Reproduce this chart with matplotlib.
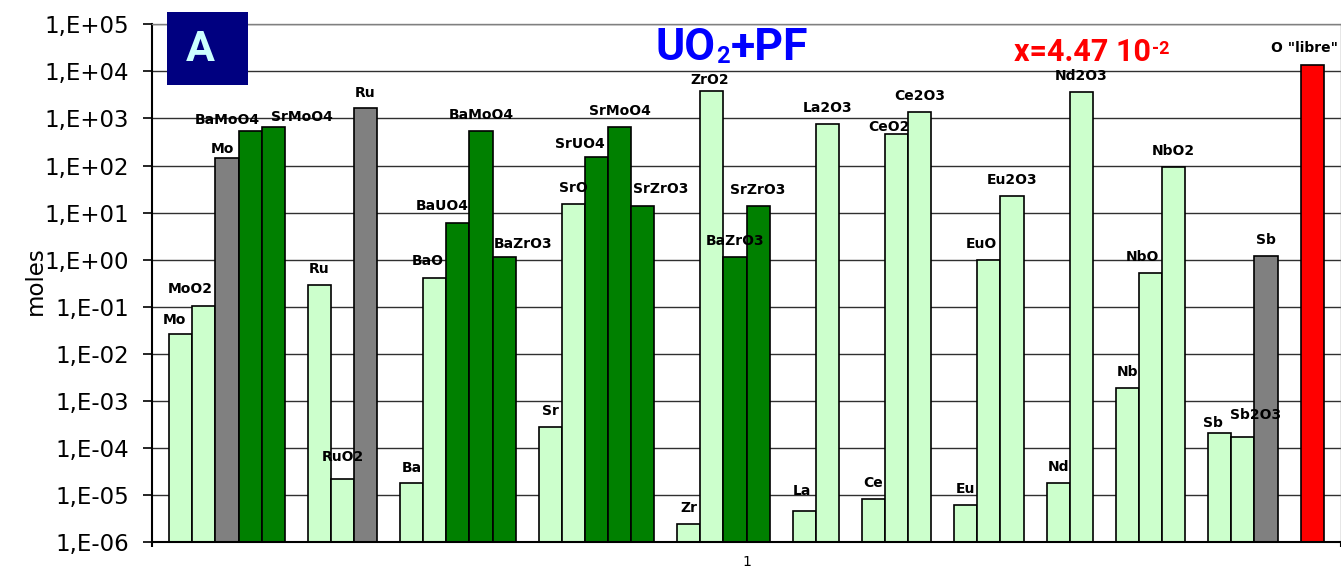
import matplotlib.pyplot as plt
from matplotlib import font_manager
from matplotlib.patches import Rectangle
from matplotlib.ticker import FixedLocator, FuncFormatter, NullLocator

# one bar per species, "" / None marks an empty slot between element groups
species = [
    "Mo", "MoO2", "Mo", "BaMoO4", "SrMoO4", "",
    "Ru", "RuO2", "Ru", "",
    "Ba", "BaO", "BaUO4", "BaMoO4", "BaZrO3", "",
    "Sr", "SrO", "SrUO4", "SrMoO4", "SrZrO3", "",
    "Zr", "ZrO2", "BaZrO3", "SrZrO3", "",
    "La", "La2O3", "",
    "Ce", "CeO2", "Ce2O3", "",
    "Eu", "EuO", "Eu2O3", "",
    "Nd", "Nd2O3", "",
    "Nb", "NbO", "NbO2", "",
    "Sb", "Sb2O3", "Sb", "",
    'O "libre"',
]
moles = [
    2.6e-2, 1.06e-1, 147, 535, 660, None,
    0.29, 2.2e-5, 1700, None,
    1.8e-5, 0.40, 6.1, 535, 1.13, None,
    2.8e-4, 15.3, 155, 660, 14, None,
    2.4e-6, 3840, 1.13, 14, None,
    4.7e-6, 776, None,
    8.4e-6, 462, 1350, None,
    6.3e-6, 1.0, 22.6, None,
    1.8e-5, 3600, None,
    1.87e-3, 0.52, 95, None,
    2.1e-4, 1.75e-4, 1.22, None,
    1.37e4,
]
# s: dissolved in UO2, x: mixed oxide phase, m: metallic phase, o: free oxygen
phase = [
    "s", "s", "m", "x", "x", "",
    "s", "s", "m", "",
    "s", "s", "x", "x", "x", "",
    "s", "s", "x", "x", "x", "",
    "s", "s", "x", "x", "",
    "s", "s", "",
    "s", "s", "s", "",
    "s", "s", "s", "",
    "s", "s", "",
    "s", "s", "s", "",
    "s", "s", "m", "",
    "o",
]
decades = list(range(-6, 6))

W, H = 1341, 570
phase_colors = {"s": "#CCFFCC", "x": "#008000", "m": "#808080", "o": "#FF0000"}
# hand placed data labels (pixels), default is centred 16 px above the bar
label_shift = {
    0: (-6, 14), 1: (-14, 17), 2: (-5, 9), 3: (-23, 11), 4: (29, 10),
    7: (0, 22), 8: (0, 15), 10: (0, 15), 11: (-7, 17), 12: (-16, 17),
    14: (19, 13), 18: (-17, 13), 20: (18, 17), 23: (-2, 11), 27: (-2, 20),
    31: (-8, 7), 35: (-8, 16), 42: (-8, 16), 45: (-7, 10), 46: (13, 22),
    49: (-8, 17),
}

_names = {f.name for f in font_manager.fontManager.ttflist}
narrow = "Liberation Sans Narrow" if "Liberation Sans Narrow" in _names else "Roboto"


def fx(px):
    return px / W


def fy(py):
    return 1 - py / H


fig = plt.figure(figsize=(W / 100, H / 100), dpi=100)
ax = fig.add_axes([fx(152.3), fy(542.3), (1340.7 - 152.3) / W, (542.3 - 24.3) / H])

ax.set_yscale("log")
ax.set_ylim(10.0 ** decades[0], 10.0 ** decades[-1])
ax.set_xlim(-1.237, len(species) - 1 + 1.237)

for i, (name, val, kind) in enumerate(zip(species, moles, phase)):
    if val is None:
        continue
    ax.bar(i, val, width=1.0, color=phase_colors[kind], edgecolor="black",
           linewidth=1.2, zorder=2)
    dx, dy = label_shift.get(i, (0, 16))
    ax.annotate(name, (i, val), xytext=(dx, dy), textcoords="offset pixels",
                ha="center", va="center", fontsize=10, fontweight="bold",
                zorder=5)

ax.yaxis.set_major_locator(FixedLocator([10.0 ** k for k in decades]))
ax.yaxis.set_minor_locator(NullLocator())
ax.yaxis.set_major_formatter(
    FuncFormatter(lambda v, pos: "1,E%+03d" % round(__import__("math").log10(v)))
)
ax.tick_params(axis="y", length=6.5, width=1.2, direction="out", pad=10.5,
               labelsize=16.5)
ax.yaxis.grid(True, color="#303030", linewidth=1.0)
ax.set_axisbelow(True)

ax.set_xticks([(len(species) - 1) / 2])
ax.set_xticklabels(["1"])
ax.set_xticks(list(ax.get_xlim()), minor=True)
ax.tick_params(axis="x", which="major", length=0, pad=9, labelsize=10)
ax.tick_params(axis="x", which="minor", length=3.5, width=1.5, direction="out")

for side in ("left", "bottom"):
    ax.spines[side].set_linewidth(1.5)
    ax.spines[side].set_color("black")
for side in ("top", "right"):
    ax.spines[side].set_linewidth(1.0)
    ax.spines[side].set_color("#808080")

fig.text(fx(35), fy(281), "moles", rotation=90, ha="center", va="center",
         fontsize=16.5)

# panel tag
fig.patches.append(Rectangle((fx(166.7), fy(84.7)), (247.7 - 166.7) / W,
                             (84.7 - 12) / H, transform=fig.transFigure,
                             facecolor="#000080", edgecolor="none", zorder=3))
fig.text(fx(200), fy(60.7), "A", ha="center", va="baseline", color="#CCFFFF",
         fontsize=31, fontweight="bold", family=narrow, zorder=4)

# title UO2+PF with a subscript
uo = fig.text(fx(655), fy(60), "UO", ha="left", va="baseline", color="#0000FF",
              fontsize=32, fontweight="bold", family=narrow)
sub = ax.annotate("2", xy=(1, 0), xycoords=uo, xytext=(1, 1),
                  textcoords="offset pixels", ha="left", va="bottom",
                  color="#0000FF", fontsize=17, fontweight="bold", family=narrow)
ax.annotate("+PF", xy=(1, 0), xycoords=(sub, uo), xytext=(1, 0),
            textcoords="offset pixels", ha="left", va="bottom",
            color="#0000FF", fontsize=32, fontweight="bold", family=narrow)

# oxygen fraction
xt = fig.text(fx(1014), fy(61), "x=4.47 10", ha="left", va="baseline",
              color="#FF0000", fontsize=22, fontweight="bold", family=narrow)
ax.annotate("-2", xy=(1, 1), xycoords=xt, xytext=(1, -3),
            textcoords="offset pixels", ha="left", va="top",
            color="#FF0000", fontsize=13, fontweight="bold", family=narrow)

fig.savefig("out.png", dpi=100)
